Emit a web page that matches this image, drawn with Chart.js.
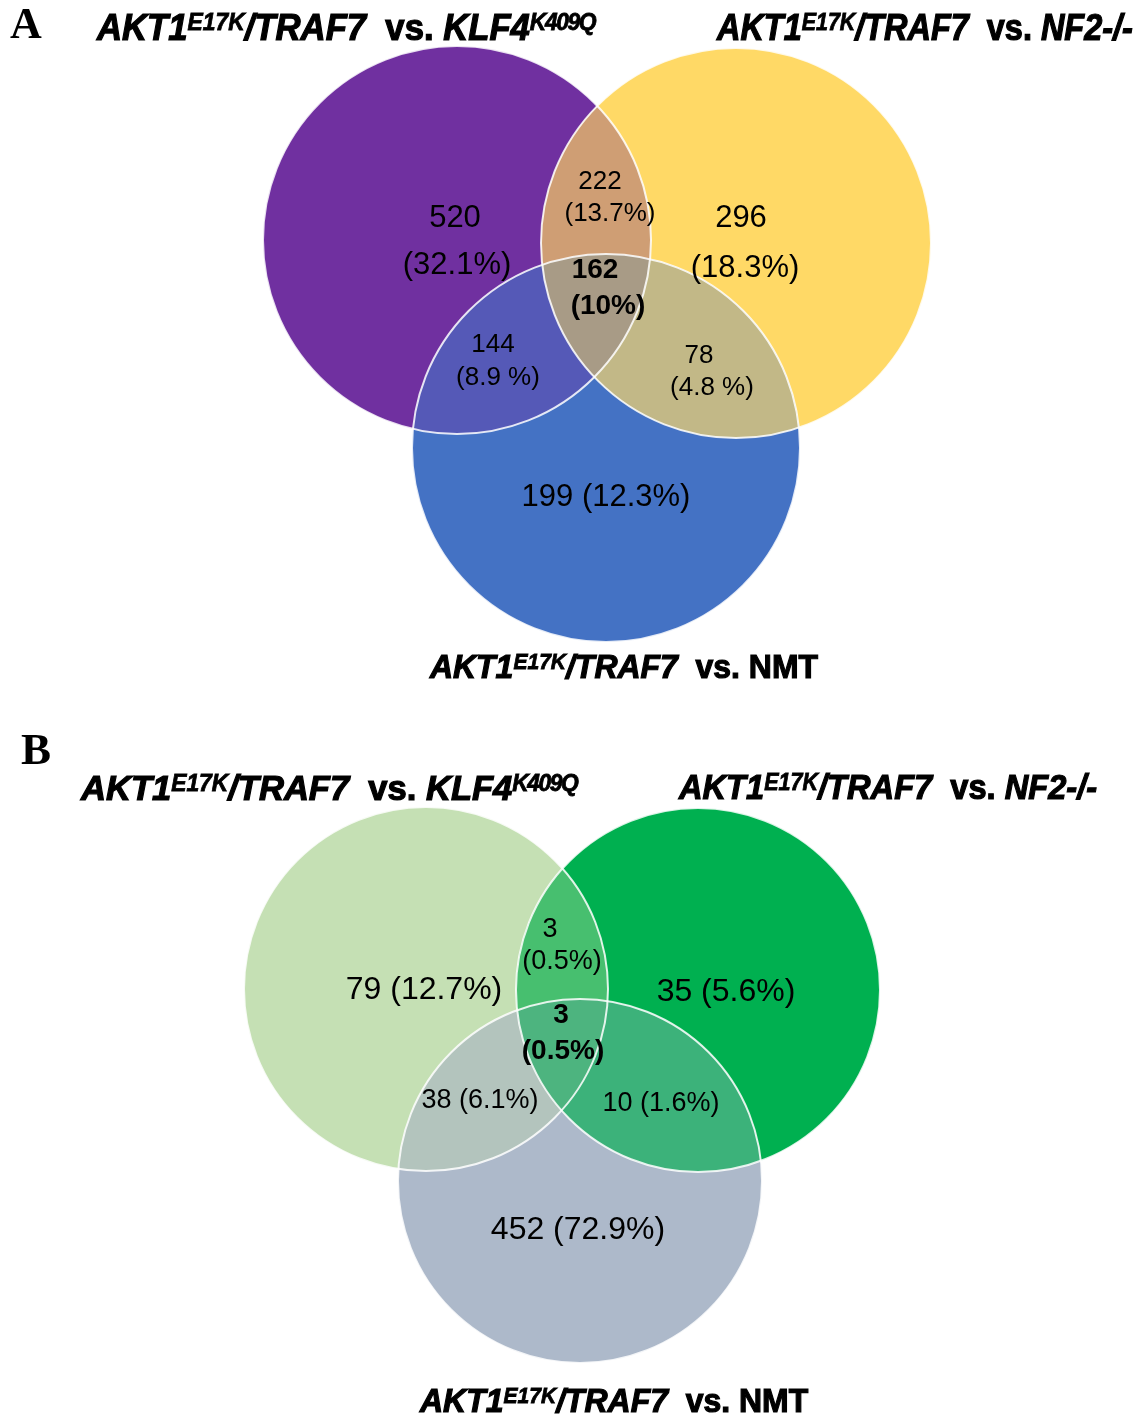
<!DOCTYPE html>
<html>
<head>
<meta charset="utf-8">
<script src="https://cdn.jsdelivr.net/npm/chart.js@4.4.0/dist/chart.umd.min.js"></script>
<style>
    html, body { margin: 0; padding: 0; background: #fff; }
    body { width: 1140px; height: 1418px; position: relative; overflow: hidden; font-family: "Liberation Sans", Arial, sans-serif; }
    .panel { position: absolute; left: 0; width: 1140px; }
    #panelA { top: 0; height: 700px; }
    #panelB { top: 700px; height: 718px; }
    .letter { position: absolute; font-family: "Liberation Serif", "Times New Roman", serif; font-weight: bold; line-height: 1; color: #000; }
    .ttl { position: absolute; white-space: nowrap; font-weight: bold; line-height: 1; color: #000;
           -webkit-text-stroke: 1.2px #000; transform-origin: 0 0; }
    .ttl i { font-style: italic; }
    .ttl sup { font-size: 0.66em; vertical-align: 0; position: relative; top: -0.42em; font-style: italic; -webkit-text-stroke: 0.8px #000; }
    .ttl sup.k { letter-spacing: -1.5px; }
</style>
</head>
<body>
<div class="panel" id="panelA"><canvas id="vennA"></canvas></div>
<div class="panel" id="panelB"><canvas id="vennB"></canvas></div>

<div class="letter" id="letterA">A</div>
<div class="letter" id="letterB">B</div>
<div class="ttl" id="tA1"><i>AKT1<sup>E17K</sup>/TRAF7</i>&nbsp; vs. <i>KLF4<sup class="k">K409Q</sup></i></div>
<div class="ttl" id="tA2"><i>AKT1<sup>E17K</sup>/TRAF7</i>&nbsp; vs. <i>NF2-/-</i></div>
<div class="ttl" id="tA3"><i>AKT1<sup>E17K</sup>/TRAF7</i>&nbsp; vs. NMT</div>
<div class="ttl" id="tB1"><i>AKT1<sup>E17K</sup>/TRAF7</i>&nbsp; vs. <i>KLF4<sup class="k">K409Q</sup></i></div>
<div class="ttl" id="tB2"><i>AKT1<sup>E17K</sup>/TRAF7</i>&nbsp; vs. <i>NF2-/-</i></div>
<div class="ttl" id="tB3"><i>AKT1<sup>E17K</sup>/TRAF7</i>&nbsp; vs. NMT</div>

<script>
// sets: KLF4 comparison, NF2 comparison, NMT comparison
const setNames = ['vs. KLF4 K409Q', 'vs. NF2-/-', 'vs. NMT'];

// circle centres / radii (x axis runs 0..1140 over 1140px, so r is the same in px)
const circleXA = [457, 736, 606];
const circleYA = [240, 243, 448];
const circleRA = [194, 195, 194];
const circleXB = [426, 698, 580];
const circleYB = [989, 990, 1181];
const circleRB = [182, 182, 182];

// regions: a, b, c, ab, ac, bc, abc
const countsA = [520, 296, 199, 222, 144, 78, 162];
const pctA = ['32.1%', '18.3%', '12.3%', '13.7%', '8.9 %', '4.8 %', '10%'];
const countsB = [79, 35, 452, 3, 38, 10, 3];
const pctB = ['12.7%', '5.6%', '72.9%', '0.5%', '6.1%', '1.6%', '0.5%'];

// label placement (chart units): two-line labels get two anchor points
const labelLayoutA = [
    { at: [[455, 218], [457, 265]], size: 31 },
    { at: [[741, 218], [745, 268]], size: 31 },
    { at: [[606, 497]], size: 31 },
    { at: [[600, 182], [610, 214]], size: 26 },
    { at: [[493, 345], [498, 378]], size: 26 },
    { at: [[699, 356], [712, 388]], size: 26 },
    { at: [[595, 270], [608, 306]], size: 28, bold: true }
];
const labelLayoutB = [
    { at: [[424, 990]], size: 32 },
    { at: [[726, 992]], size: 32 },
    { at: [[578, 1230]], size: 32 },
    { at: [[550, 930], [562, 962]], size: 27 },
    { at: [[480, 1101]], size: 27 },
    { at: [[661, 1104]], size: 27 },
    { at: [[561, 1015], [563, 1051]], size: 28, bold: true }
];

const colorsA = ['#7030A0', '#FFD966', '#4472C4'];
const lensA = { ab: '#CF9E74', ac: '#5559B7', bc: '#C2B887', abc: '#A89B86' };
const colorsB = ['#C5E0B4', '#00B050', '#ADB9CA'];
const lensB = { ab: '#47BF6F', ac: '#B3C4BD', bc: '#3CB27A', abc: '#4DB47F' };

// draws overlap lenses, white outlines and region labels on top of the bubbles
const vennOverlay = {
    id: 'vennOverlay',
    afterDatasetsDraw(chart, args, opts) {
        const ctx = chart.ctx;
        const c = chart.data.datasets.map((d, i) => {
            const el = chart.getDatasetMeta(i).data[0];
            return { x: el.x, y: el.y, r: el.options.radius };
        });
        const arc = k => { ctx.beginPath(); ctx.arc(c[k].x, c[k].y, c[k].r, 0, Math.PI * 2); };

        const fillRegion = (ids, color) => {
            ctx.save();
            ids.slice(0, -1).forEach(k => { arc(k); ctx.clip(); });
            arc(ids[ids.length - 1]);
            ctx.fillStyle = color;
            ctx.fill();
            ctx.restore();
        };
        fillRegion([0, 1], opts.lens.ab);
        fillRegion([0, 2], opts.lens.ac);
        fillRegion([1, 2], opts.lens.bc);
        fillRegion([0, 1, 2], opts.lens.abc);

        ctx.save();
        ctx.strokeStyle = 'rgba(255,255,255,0.85)';
        ctx.lineWidth = 2;
        [0, 1, 2].forEach(k => { arc(k); ctx.stroke(); });
        ctx.restore();

        const sx = chart.scales.x, sy = chart.scales.y;
        ctx.save();
        ctx.fillStyle = '#000';
        ctx.textAlign = 'center';
        ctx.textBaseline = 'middle';
        opts.counts.forEach((n, i) => {
            const lay = opts.layout[i];
            ctx.font = (lay.bold ? 'bold ' : '') + lay.size + 'px "Liberation Sans", Arial, sans-serif';
            const lines = lay.at.length > 1 ? [String(n), '(' + opts.pcts[i] + ')'] : [n + ' (' + opts.pcts[i] + ')'];
            lines.forEach((t, j) => {
                ctx.fillText(t, sx.getPixelForValue(lay.at[j][0]), sy.getPixelForValue(lay.at[j][1]));
            });
        });
        ctx.restore();
    }
};

function makeVenn(canvasId, xs, ys, rs, yMin, yMax, colors, lens, counts, pcts, layout) {
    const ctx = document.getElementById(canvasId).getContext('2d');
    return new Chart(ctx, {
        type: 'bubble',
        data: {
            datasets: setNames.map((name, i) => ({
                label: name,
                data: [{ x: xs[i], y: ys[i], r: rs[i] }],
                backgroundColor: colors[i],
                borderWidth: 0,
                hoverBorderWidth: 0,
                order: 3 - i
            }))
        },
        options: {
            responsive: true,
            maintainAspectRatio: false,
            animation: false,
            events: [],
            layout: { padding: 0, autoPadding: false },
            scales: {
                x: { type: 'linear', min: 0, max: 1140, display: false },
                y: { type: 'linear', min: yMin, max: yMax, reverse: true, display: false }
            },
            plugins: {
                legend: { display: false },
                tooltip: { enabled: false },
                vennOverlay: { lens, counts, pcts, layout }
            }
        },
        plugins: [vennOverlay]
    });
}

makeVenn('vennA', circleXA, circleYA, circleRA, 0, 700, colorsA, lensA, countsA, pctA, labelLayoutA);
makeVenn('vennB', circleXB, circleYB, circleRB, 700, 1418, colorsB, lensB, countsB, pctB, labelLayoutB);

// headings: left / right edge and baseline in page pixels
function placeTitle(id, left, right, baseline, size) {
    const el = document.getElementById(id);
    el.style.fontSize = size + 'px';
    el.style.left = left + 'px';
    el.style.top = (baseline - 0.85 * size) + 'px';
    const w = el.getBoundingClientRect().width;
    el.style.transform = 'scaleX(' + ((right - left) / w).toFixed(3) + ')';
}
placeTitle('tA1', 97, 595, 41, 36);
placeTitle('tA2', 717, 1133, 41, 36);
placeTitle('tA3', 430, 818, 678, 34);
placeTitle('tB1', 81, 577, 800, 35);
placeTitle('tB2', 679, 1097, 799, 35);
placeTitle('tB3', 420, 808, 1412, 33);

function placeLetter(id, left, baseline, size) {
    const el = document.getElementById(id);
    el.style.fontSize = size + 'px';
    el.style.left = left + 'px';
    el.style.top = (baseline - 0.89 * size) + 'px';
}
placeLetter('letterA', 10, 41, 44);
placeLetter('letterB', 21, 767, 45);
</script>
</body>
</html>
